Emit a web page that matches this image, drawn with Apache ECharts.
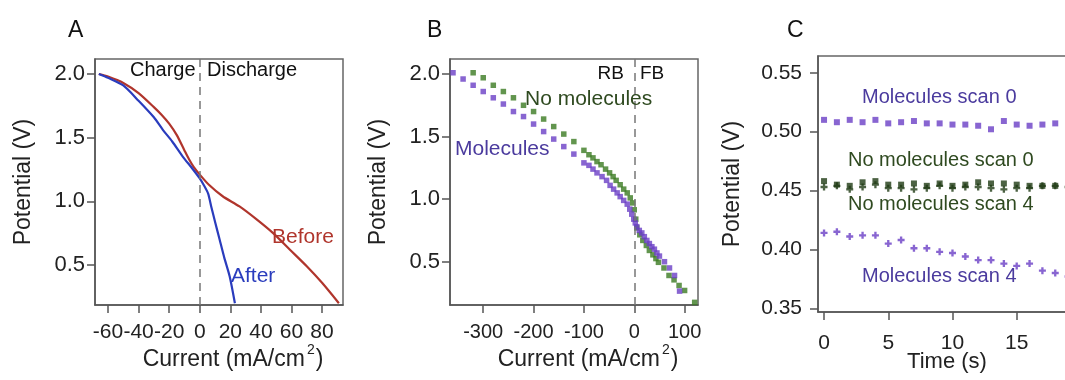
<!DOCTYPE html>
<html><head><meta charset="utf-8">
<script src="https://cdn.jsdelivr.net/npm/echarts@6/dist/echarts.min.js"></script>
<style>html,body{margin:0;padding:0;background:#fff}#c{width:1065px;height:380px}</style>
</head><body><div id="c"></div>
<script>
// ---------- Panel A ----------
const beforeCurrent = [-66, -60, -50, -40, -30, -25, -20, -15, -10, -7, -4, 0, 6, 15, 26, 37, 48, 59, 70, 80, 91];
const beforePotential = [2.00, 1.98, 1.93, 1.85, 1.74, 1.68, 1.61, 1.52, 1.40, 1.33, 1.27, 1.21, 1.13, 1.04, 0.96, 0.86, 0.75, 0.62, 0.49, 0.36, 0.20];
const afterCurrent = [-66, -60, -50, -40, -30, -24, -18, -11, -5, 0, 3, 5.5, 7.5, 10, 13, 16, 19.6, 23];
const afterPotential = [2.00, 1.97, 1.91, 1.79, 1.66, 1.56, 1.47, 1.35, 1.26, 1.18, 1.12, 1.06, 0.96, 0.84, 0.70, 0.56, 0.41, 0.20];
const aXTicks = [-60, -40, -20, 0, 20, 40, 60, 80];
const aYTicks = [0.5, 1.0, 1.5, 2.0];

// ---------- Panel B ----------
const molCurrent = [-360,-340,-320,-300,-280,-260,-240,-220,-200,-180,-160,-140,-120,-100,
  -90,-82,-74,-64,-55,-48,-41,-34,-28,-21,-14,-9,-5,-1,
  2,5,10,15,20,25,30,35,40,45,50,
  60,70,80,90];
const molPotential = [2.01,1.96,1.91,1.86,1.81,1.76,1.70,1.66,1.60,1.54,1.48,1.42,1.36,1.29,
  1.27,1.24,1.21,1.18,1.15,1.11,1.08,1.05,1.02,0.99,0.96,0.92,0.88,0.84,
  0.81,0.78,0.75,0.73,0.70,0.67,0.645,0.62,0.60,0.57,0.545,
  0.50,0.45,0.39,0.265];
const noMolCurrent = [-320,-300,-280,-260,-240,-220,-200,-180,-160,-140,-120,-100,
  -90,-82,-74,-66,-57,-49,-42,-36,-28,-21,-14,-8,-3,0,
  3,5,11,17,24,30,37,43,48,
  59,69,79,89,100,120];
const noMolPotential = [2.01,1.97,1.91,1.86,1.81,1.75,1.70,1.64,1.58,1.52,1.46,1.39,
  1.355,1.33,1.30,1.275,1.24,1.21,1.18,1.15,1.115,1.08,1.05,1.01,0.97,0.915,
  0.84,0.77,0.715,0.67,0.63,0.59,0.555,0.525,0.495,
  0.45,0.39,0.355,0.31,0.27,0.175];
const bXTicks = [-300, -200, -100, 0, 100];
const bYTicks = [0.5, 1.0, 1.5, 2.0];

// ---------- Panel C ----------
const timeS = [0,1,2,3,4,5,6,7,8,9,10,11,12,13,14,15,16,17,18,19];
const molScan0 = [0.510,0.508,0.510,0.508,0.510,0.507,0.508,0.509,0.507,0.507,0.506,0.506,0.505,0.502,0.509,0.506,0.505,0.506,0.507,0.505];
const noMolScan0 = [0.458,0.455,0.454,0.457,0.458,0.455,0.455,0.456,0.454,0.456,0.454,0.455,0.457,0.456,0.456,0.455,0.454,0.454,0.454,0.454];
const noMolScan4 = [0.453,0.454,0.451,0.453,0.455,0.452,0.452,0.451,0.452,0.454,0.452,0.453,0.453,0.452,0.451,0.452,0.452,0.454,0.454,0.453];
const molScan4 = [0.414,0.415,0.411,0.412,0.412,0.405,0.408,0.401,0.401,0.398,0.397,0.394,0.391,0.391,0.388,0.386,0.388,0.382,0.380,0.377];
const cXTicks = [0, 5, 10, 15];
const cYTicks = [0.35, 0.40, 0.45, 0.50, 0.55];

const FONT = '"Liberation Sans", Arial, sans-serif';
const RED = '#b0352c', BLUE = '#2a3cbd';
const PURPLE = '#6a3ec6', GREEN = '#3b7a22', DKGREEN = '#1f3b14';
const PURPLE_TXT = '#4b3b9e', GREEN_TXT = '#2f4a20';
const PLUS = 'path://M2,0H4V2H6V4H4V6H2V4H0V2H2Z';

const zip = (a, b) => a.map((v, i) => [v, b[i]]);

function axis(gi, min, max, ticks, fmt, o) {
  const ns = o.nameSize || 23;
  return {
    type: 'value', gridIndex: gi, min: min, max: max,
    splitLine: { show: false },
    axisLine: { show: true, onZero: false, lineStyle: { color: '#555', width: 1.5 } },
    axisTick: { show: true, customValues: ticks, length: 8, lineStyle: { color: '#555', width: 1.5 } },
    axisLabel: { customValues: ticks, formatter: fmt, color: '#222', fontSize: o.labelSize || 21, fontFamily: FONT, margin: o.margin },
    name: o.name, nameLocation: 'middle', nameGap: o.nameGap, nameMoveOverlap: false,
    nameTextStyle: Object.assign({ color: '#222', fontSize: ns, fontFamily: FONT,
      rich: {
        b: { fontSize: ns, fontFamily: FONT, color: '#222', lineHeight: 28, verticalAlign: 'bottom' },
        sup: { fontSize: 14, fontFamily: FONT, color: '#222', lineHeight: 14, verticalAlign: 'top', padding: [0, 1, 0, 2] }
      } }, o.nts || {})
  };
}
const f1 = v => v.toFixed(1), f0 = v => String(v), f2 = v => v.toFixed(2);
const curName = '{b|Current (mA/cm}{sup|2}{b|)}';

const dashed = { silent: true, symbol: ['none', 'none'], label: { show: false },
  lineStyle: { type: [8, 6], color: '#777', width: 1.5 }, data: [{ xAxis: 0 }] };

function txt(x, y, text, color, size, align) {
  return { type: 'text', x: x, y: y, z: 100,
    style: { text: text, fill: color, font: size + 'px ' + FONT, align: align || 'left', verticalAlign: 'middle' } };
}

const option = {
  animation: false,
  backgroundColor: '#fff',
  grid: [
    { left: 95, top: 59, width: 248, height: 246, show: true, borderColor: '#666', borderWidth: 1.5, outerBoundsMode: 'none', containLabel: false },
    { left: 450, top: 59, width: 248, height: 246, show: true, borderColor: '#666', borderWidth: 1.5, outerBoundsMode: 'none', containLabel: false },
    { left: 818, top: 56, width: 270, height: 256, show: true, borderColor: '#666', borderWidth: 1.5, outerBoundsMode: 'none', containLabel: false }
  ],
  xAxis: [
    axis(0, -68.5, 93.7, aXTicks, f0, { margin: 17, name: curName, nameGap: 38, nts: { padding: [0, 0, 0, 28] } }),
    axis(1, -366, 126.6, bXTicks, f0, { margin: 17, labelSize: 20, name: curName, nameGap: 38, nts: { padding: [0, 0, 0, 28] } }),
    axis(2, -0.47, 20.55, cXTicks, f0, { margin: 21, nameSize: 22, name: 'Time (s)', nameGap: 39, nts: { padding: [0, 12, 0, 0] } })
  ],
  yAxis: [
    axis(0, 0.186, 2.118, aYTicks, f1, { margin: 10, labelSize: 22, name: 'Potential (V)', nameGap: 60 }),
    axis(1, 0.154, 2.12, bYTicks, f1, { margin: 10, labelSize: 22, name: 'Potential (V)', nameGap: 60 }),
    axis(2, 0.3469, 0.5642, cYTicks, f2, { margin: 16, name: 'Potential (V)', nameGap: 74 })
  ],
  series: [
    { name: 'Before', type: 'line', xAxisIndex: 0, yAxisIndex: 0, data: zip(beforeCurrent, beforePotential),
      showSymbol: false, smooth: 0.25, lineStyle: { color: RED, width: 2.2 }, markLine: dashed },
    { name: 'After', type: 'line', xAxisIndex: 0, yAxisIndex: 0, data: zip(afterCurrent, afterPotential),
      showSymbol: false, smooth: 0.25, lineStyle: { color: BLUE, width: 2.2 } },
    { name: 'No molecules', type: 'scatter', xAxisIndex: 1, yAxisIndex: 1, data: zip(noMolCurrent, noMolPotential),
      symbol: 'rect', symbolSize: 5.5, itemStyle: { color: GREEN }, markLine: dashed },
    { name: 'Molecules', type: 'scatter', xAxisIndex: 1, yAxisIndex: 1, data: zip(molCurrent, molPotential),
      symbol: 'rect', symbolSize: 5.5, itemStyle: { color: PURPLE } },
    { name: 'Molecules scan 0', type: 'scatter', xAxisIndex: 2, yAxisIndex: 2, data: zip(timeS, molScan0),
      symbol: 'rect', symbolSize: 6, itemStyle: { color: PURPLE } },
    { name: 'No molecules scan 0', type: 'scatter', xAxisIndex: 2, yAxisIndex: 2, data: zip(timeS, noMolScan0),
      symbol: 'rect', symbolSize: 6, itemStyle: { color: DKGREEN } },
    { name: 'No molecules scan 4', type: 'scatter', xAxisIndex: 2, yAxisIndex: 2, data: zip(timeS, noMolScan4),
      symbol: PLUS, symbolSize: 7, itemStyle: { color: DKGREEN } },
    { name: 'Molecules scan 4', type: 'scatter', xAxisIndex: 2, yAxisIndex: 2, data: zip(timeS, molScan4),
      symbol: PLUS, symbolSize: 7, itemStyle: { color: PURPLE } }
  ],
  graphic: [
    txt(68, 31, 'A', '#111', 23), txt(427, 31, 'B', '#111', 23), txt(787, 31, 'C', '#111', 23),
    txt(130, 70, 'Charge', '#111', 20), txt(207, 70, 'Discharge', '#111', 20),
    txt(272, 237, 'Before', RED, 21), txt(231, 276, 'After', BLUE, 21),
    txt(624, 74, 'RB', '#111', 19, 'right'), txt(640, 74, 'FB', '#111', 19),
    txt(525, 99, 'No molecules', GREEN_TXT, 21), txt(455, 149, 'Molecules', PURPLE_TXT, 21),
    txt(862, 97, 'Molecules scan 0', PURPLE_TXT, 20), txt(848, 160, 'No molecules scan 0', GREEN_TXT, 20),
    txt(848, 204, 'No molecules scan 4', GREEN_TXT, 20), txt(862, 276, 'Molecules scan 4', PURPLE_TXT, 20)
  ]
};
const chart = echarts.init(document.getElementById('c'), null, { renderer: 'canvas' });
chart.setOption(option);
</script>
</body></html>
